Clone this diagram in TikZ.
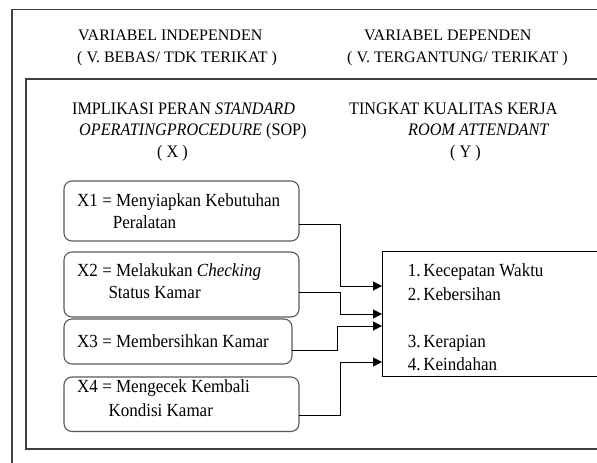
\documentclass[tikz,border=0pt]{standalone}
\usepackage{fontspec}
\setmainfont{Liberation Serif}
\newfontfamily\tallfont[FakeStretch=0.92]{Liberation Serif}
\usetikzlibrary{arrows.meta}
\begin{document}
\begin{tikzpicture}[x=1pt,y=-1pt,
  frame/.style={draw=black!75, line width=1.2pt, anchor=north west, inner sep=0pt, outer sep=0pt},
  xbox/.style={draw=black!65, line width=1.1pt, rounded corners=8pt, anchor=north west, inner sep=0pt, outer sep=0pt, minimum width=235pt},
  resbox/.style={draw=black, line width=1pt, anchor=north west, inner sep=0pt, outer sep=0pt},
  hdr/.style={anchor=base west, inner sep=0pt, font=\fontsize{16}{19}\selectfont},
  sec/.style={anchor=base west, inner sep=0pt, font=\tallfont\fontsize{17.6}{19}\selectfont},
  txt/.style={anchor=base west, inner sep=0pt, font=\tallfont\fontsize{18.5}{20}\selectfont},
  conn/.style={draw=black, line width=1pt, -{Triangle[length=9pt,width=9pt]}}]
\useasboundingbox (0,0) rectangle (597,463);
\clip (0,0) rectangle (597,463);
% frames
\node[frame, minimum width=620pt, minimum height=480pt] (outer) at (12,9.5) {};
\node[frame, minimum width=600pt, minimum height=370pt] (inner) at (26,79) {};
% header
\node[hdr] (h1) at (78,40) {VARIABEL INDEPENDEN};
\node[hdr] (h2) at (77,62.7) {( V. BEBAS/ TDK TERIKAT )};
\node[hdr] (h3) at (364,40) {VARIABEL DEPENDEN};
\node[hdr] (h4) at (347,62.7) {( V. TERGANTUNG/ TERIKAT )};
% section titles
\node[sec] (s1) at (72,114) {IMPLIKASI PERAN \textit{STANDARD}};
\node[sec] (s2) at (79,135) {\textit{OPERATINGPROCEDURE} (SOP)};
\node[sec] (s3) at (157,157) {( X )};
\node[sec] (t1) at (349,114) {TINGKAT KUALITAS KERJA};
\node[sec] (t2) at (408,135) {\textit{ROOM ATTENDANT}};
\node[sec] (t3) at (450,157) {( Y )};
% X boxes
\node[xbox, minimum height=60pt] (x1) at (64,181) {};
\node[xbox, minimum height=65pt] (x2) at (64,252) {};
\node[xbox, minimum height=45pt, minimum width=228pt] (x3) at (64,319) {};
\node[xbox, minimum height=54.5pt] (x4) at (64,377) {};
\node[txt] (x1a) at (77,206) {X1 = Menyiapkan Kebutuhan};
\node[txt] (x1b) at (112.7,228) {Peralatan};
\node[txt] (x2a) at (77,276.5) {X2 = Melakukan \textit{Checking}};
\node[txt] (x2b) at (108.3,298) {Status Kamar};
\node[txt] (x3a) at (77,347) {X3 = Membersihkan Kamar};
\node[txt] (x4a) at (77,392.7) {X4 = Mengecek Kembali};
\node[txt] (x4b) at (108.3,416.7) {Kondisi Kamar};
% result box
\node[resbox, minimum width=260pt, minimum height=125pt] (res) at (382,251) {};
\node[txt] (y1) at (407.7,276) {\makebox[15.5pt][l]{1.}Kecepatan Waktu};
\node[txt] (y2) at (407.7,300) {\makebox[15.5pt][l]{2.}Kebersihan};
\node[txt] (y3) at (407.7,347.7) {\makebox[15.5pt][l]{3.}Kerapian};
\node[txt] (y4) at (407.7,370) {\makebox[15.5pt][l]{4.}Keindahan};
% connectors
\draw[conn] ([yshift=-13pt]x1.east) -- ++(41,0) |- ([yshift=27.5pt]res.west);
\draw[conn] ([yshift=-8pt]x2.east) -- ++(41,0) |- ([yshift=-0.5pt]res.west);
\draw[conn] ([yshift=-8.5pt]x3.east) -- ++(45,0) |- ([yshift=-12.5pt]res.west);
\draw[conn] ([yshift=-11pt]x4.east) -- ++(41,0) |- ([yshift=-48.5pt]res.west);
\end{tikzpicture}
\end{document}
